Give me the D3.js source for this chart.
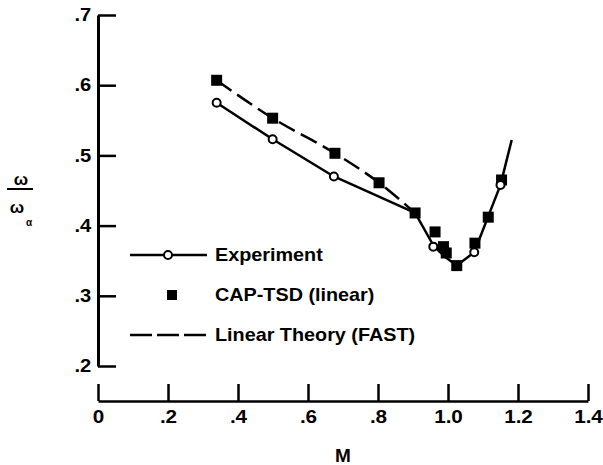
<!DOCTYPE html>
<html><head><meta charset="utf-8">
<script src="https://cdn.jsdelivr.net/npm/d3@7"></script>
<style>
body{margin:0;background:#fff;}
text{font-family:"Liberation Sans",Arial,sans-serif;font-weight:bold;fill:#000;}
</style></head>
<body>
<svg id="c" width="603" height="465"></svg>
<script>
// Data
const xTickValues = [0, 0.2, 0.4, 0.6, 0.8, 1.0, 1.2, 1.4];
const xTickLabels = ["0", ".2", ".4", ".6", ".8", "1.0", "1.2", "1.4"];
const yTickValues = [0.2, 0.3, 0.4, 0.5, 0.6, 0.7];
const yTickLabels = [".2", ".3", ".4", ".5", ".6", ".7"];

const expM = [0.339, 0.499, 0.674, 0.958, 1.075, 1.150];
const expV = [0.575, 0.523, 0.470, 0.370, 0.362, 0.458];
// faired experiment curve
const expCurveM = [0.339, 0.499, 0.674, 0.906, 0.958, 0.990, 1.025, 1.075, 1.150, 1.182];
const expCurveV = [0.575, 0.523, 0.470, 0.418, 0.372, 0.356, 0.343, 0.362, 0.458, 0.522];

const capM = [0.339, 0.499, 0.677, 0.803, 0.906, 0.963, 0.987, 0.995, 1.025, 1.077, 1.115, 1.153];
const capV = [0.607, 0.553, 0.503, 0.461, 0.418, 0.391, 0.370, 0.361, 0.343, 0.375, 0.412, 0.465];

const fastM = [0.339, 0.499, 0.677, 0.803, 0.906];
const fastV = [0.607, 0.553, 0.503, 0.461, 0.418];

const legendLabels = ["Experiment", "CAP-TSD (linear)", "Linear Theory (FAST)"];

const svg = d3.select("#c");
const x = d3.scaleLinear().domain([0, 1.4]).range([98, 588]);
const y = d3.scaleLinear().domain([0.2, 0.7]).range([366, 15]);

// Y axis
const yAxis = d3.axisLeft(y).tickValues(yTickValues)
  .tickFormat((d,i)=>yTickLabels[i]).tickSizeInner(-18).tickSizeOuter(0).tickPadding(6);
const gy = svg.append("g").attr("transform","translate(98,0)").call(yAxis);
gy.select(".domain").attr("stroke","#000").attr("stroke-width",3);
gy.selectAll(".tick line").attr("stroke","#000").attr("stroke-width",2.5);
gy.selectAll(".tick text").style("font-size","18px").style("font-family","Liberation Sans, Arial, sans-serif").style("font-weight","bold").attr("fill","#000")
  .attr("transform","scale(1.12,1)");

// X axis
const xAxis = d3.axisBottom(x).tickValues(xTickValues)
  .tickFormat((d,i)=>xTickLabels[i]).tickSizeInner(-17).tickSizeOuter(0).tickPadding(9);
const gx = svg.append("g").attr("transform","translate(0,401)").call(xAxis);
gx.select(".domain").attr("stroke","#000").attr("stroke-width",2.5);
gx.selectAll(".tick line").attr("stroke","#000").attr("stroke-width",2.5);
gx.selectAll(".tick text").style("font-size","18px").style("font-family","Liberation Sans, Arial, sans-serif").style("font-weight","bold").attr("fill","#000")
  .attr("transform","scale(1.15,1)");

// axis titles
svg.append("text").attr("x",343).attr("y",462).attr("text-anchor","middle").style("font-size","19px").text("M");
svg.append("text").attr("x",21).attr("y",185).attr("text-anchor","middle").style("font-size","17px").text("ω");
svg.append("line").attr("x1",7).attr("x2",33).attr("y1",189).attr("y2",189).attr("stroke","#000").attr("stroke-width",2);
svg.append("text").attr("x",17).attr("y",213).attr("text-anchor","middle").style("font-size","17px").text("ω");
svg.append("text").attr("x",26).attr("y",226).attr("text-anchor","start").style("font-size","10px").text("α");

// lines
const dashGen = d3.line().x(d=>x(d[0])).y(d=>y(d[1])).curve(d3.curveMonotoneX);
const solidGen = d3.line().x(d=>x(d[0])).y(d=>y(d[1]));
svg.append("path").datum(fastM.map((m,i)=>[m,fastV[i]]))
  .attr("d",dashGen).attr("fill","none").attr("stroke","#000").attr("stroke-width",2.5)
  .attr("stroke-dasharray","18,7");
svg.append("path").datum(expCurveM.map((m,i)=>[m,expCurveV[i]]))
  .attr("d",solidGen).attr("fill","none").attr("stroke","#000").attr("stroke-width",2.5)
  .attr("stroke-linejoin","round");

// squares
const sq = 11;
svg.selectAll("rect.cap").data(capM.map((m,i)=>[m,capV[i]])).enter().append("rect")
  .attr("class","cap").attr("x",d=>x(d[0])-sq/2).attr("y",d=>y(d[1])-sq/2)
  .attr("width",sq).attr("height",sq).attr("fill","#000");
// circles
svg.selectAll("circle.exp").data(expM.map((m,i)=>[m,expV[i]])).enter().append("circle")
  .attr("class","exp").attr("cx",d=>x(d[0])).attr("cy",d=>y(d[1])).attr("r",4)
  .attr("fill","#fff").attr("stroke","#000").attr("stroke-width",2);

// legend
const lg = svg.append("g");
const ly = [255, 295, 335];
lg.append("line").attr("x1",130).attr("x2",207).attr("y1",ly[0]).attr("y2",ly[0]).attr("stroke","#000").attr("stroke-width",2.5);
lg.append("circle").attr("cx",168).attr("cy",ly[0]).attr("r",4).attr("fill","#fff").attr("stroke","#000").attr("stroke-width",2);
lg.append("rect").attr("x",172-5).attr("y",ly[1]-5).attr("width",10).attr("height",10).attr("fill","#000");
lg.append("line").attr("x1",130).attr("x2",207).attr("y1",ly[2]).attr("y2",ly[2]).attr("stroke","#000").attr("stroke-width",2.5).attr("stroke-dasharray","22,5");
legendLabels.forEach((t,i)=>{
  lg.append("text").attr("transform",`translate(215,${ly[i]}) scale(1.1,1)`).attr("dy","0.35em").style("font-size","18px").text(t);
});
</script>
</body></html>
